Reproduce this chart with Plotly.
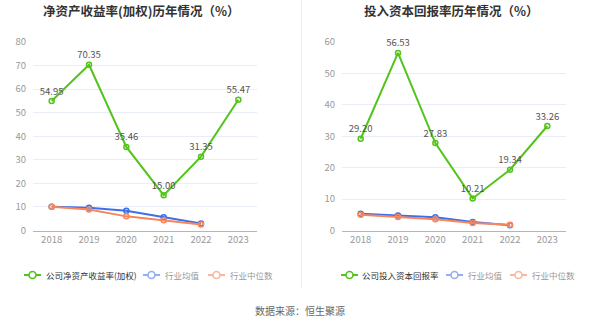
import plotly.graph_objects as go

years = ["2018", "2019", "2020", "2021", "2022", "2023"]

roe_company = [54.95, 70.35, 35.46, 15.00, 31.35, 55.47]
roe_ind_avg = [10.1, 9.7, 8.4, 5.6, 3.0]
roe_ind_med = [10.1, 8.9, 6.0, 4.3, 2.5]

roic_company = [29.20, 56.53, 27.83, 10.21, 19.34, 33.26]
roic_ind_avg = [5.3, 4.8, 4.2, 2.7, 1.7]
roic_ind_med = [5.0, 4.3, 3.6, 2.4, 1.8]

roe_yticks = [0, 10, 20, 30, 40, 50, 60, 70, 80]
roic_yticks = [0, 10, 20, 30, 40, 50, 60]

GREEN = "#52c41a"
BLUE = "#3d6fe8"
ORANGE = "#f7865a"
BLUE_L = "#93aef2"
ORANGE_L = "#f9b9a0"
FONT = "Noto Sans CJK SC"

W, H = 600, 323

fig = go.Figure()


def add_panel(xa, ya, comp, avg, med, comp_name):
    fig.add_trace(go.Scatter(
        x=years, y=comp, mode="lines+markers+text", name=comp_name,
        line=dict(color=GREEN, width=2),
        marker=dict(symbol="circle-open", size=5, color=GREEN, line=dict(width=1.5)),
        text=[f"{v:.2f}" for v in comp], textposition="top center",
        textfont=dict(size=9.5, color="#555", family=FONT),
        cliponaxis=False, xaxis=xa, yaxis=ya, showlegend=False,
    ))
    fig.add_trace(go.Scatter(
        x=years[:len(avg)], y=avg, mode="lines+markers", name="行业均值",
        line=dict(color=BLUE, width=2),
        marker=dict(symbol="circle-open", size=5, color=BLUE, line=dict(width=1.5)),
        cliponaxis=False, xaxis=xa, yaxis=ya, showlegend=False,
    ))
    fig.add_trace(go.Scatter(
        x=years[:len(med)], y=med, mode="lines+markers", name="行业中位数",
        line=dict(color=ORANGE, width=2),
        marker=dict(symbol="circle-open", size=5, color=ORANGE, line=dict(width=1.5)),
        cliponaxis=False, xaxis=xa, yaxis=ya, showlegend=False,
    ))


add_panel("x", "y", roe_company, roe_ind_avg, roe_ind_med, "公司净资产收益率(加权)")
add_panel("x2", "y2", roic_company, roic_ind_avg, roic_ind_med, "公司投入资本回报率")

ydom = [1 - 230.5 / H, 1 - 42 / H]

axis_common_x = dict(
    type="category", showgrid=False, zeroline=False,
    showline=True, linecolor="#b5b5b5", linewidth=1,
    ticks="", tickfont=dict(size=9.5, color="#999", family=FONT),
    range=[-0.5, 5.5], fixedrange=True,
)
axis_common_y = dict(
    showgrid=True, gridcolor="#e9edf5", gridwidth=1, zeroline=False,
    showline=False, ticks="", tickfont=dict(size=9.5, color="#999", family=FONT),
    ticklabelstandoff=6, fixedrange=True, domain=ydom,
)

fig.update_layout(
    width=W, height=H,
    margin=dict(l=0, r=0, t=0, b=0, autoexpand=False),
    paper_bgcolor="white", plot_bgcolor="white",
    font=dict(family=FONT),
    xaxis=dict(axis_common_x, domain=[33 / W, 257 / W], anchor="y"),
    yaxis=dict(axis_common_y, range=[0, 80], tickvals=roe_yticks, anchor="x"),
    xaxis2=dict(axis_common_x, domain=[342 / W, 566 / W], anchor="y2"),
    yaxis2=dict(axis_common_y, range=[0, 60], tickvals=roic_yticks, anchor="x2"),
    showlegend=False,
)

# custom legends (pixel layout of the reference)
LEG_Y = 275
legend_items = [
    # (icon_x0, text_x, label, icon colour, text colour)
    (24, 44, "公司净资产收益率(加权)", GREEN, "#333"),
    (143, 163, "行业均值", BLUE_L, "#999"),
    (208, 228, "行业中位数", ORANGE_L, "#999"),
    (341, 360, "公司投入资本回报率", GREEN, "#333"),
    (446, 466, "行业均值", BLUE_L, "#999"),
    (510, 530, "行业中位数", ORANGE_L, "#999"),
]
for ix, tx, label, col, tcol in legend_items:
    yy = 1 - LEG_Y / H
    fig.add_shape(type="line", xref="paper", yref="paper",
                  x0=ix / W, x1=(ix + 17) / W, y0=yy, y1=yy,
                  line=dict(color=col, width=2))
    cx = ix + 8.5
    r = 3.5
    fig.add_shape(type="circle", xref="paper", yref="paper",
                  x0=(cx - r) / W, x1=(cx + r) / W,
                  y0=1 - (LEG_Y + r) / H, y1=1 - (LEG_Y - r) / H,
                  line=dict(color=col, width=1.6), fillcolor="white")
    fig.add_annotation(text=label, x=tx / W, y=yy, xref="paper", yref="paper",
                       xanchor="left", yanchor="middle", showarrow=False,
                       font=dict(size=8.5, color=tcol, family=FONT))

fig.add_annotation(text="<b>净资产收益率(加权)历年情况（%）</b>", x=141.5 / W, y=1 - 11 / H,
                   xref="paper", yref="paper", showarrow=False,
                   xanchor="center", yanchor="middle",
                   font=dict(size=12.5, color="#333", family=FONT))
fig.add_annotation(text="<b>投入资本回报率历年情况（%）</b>", x=451.5 / W, y=1 - 11 / H,
                   xref="paper", yref="paper", showarrow=False,
                   xanchor="center", yanchor="middle",
                   font=dict(size=12.5, color="#333", family=FONT))
fig.add_annotation(text="数据来源：恒生聚源", x=0.5, y=1 - 310 / H,
                   xref="paper", yref="paper", showarrow=False,
                   xanchor="center", yanchor="middle",
                   font=dict(size=10, color="#666", family=FONT))
fig.add_shape(type="line", xref="paper", yref="paper",
              x0=301.5 / W, x1=301.5 / W, y0=1, y1=1 - 288 / H,
              line=dict(color="#eeeeee", width=1))

fig.write_html("out.html")
